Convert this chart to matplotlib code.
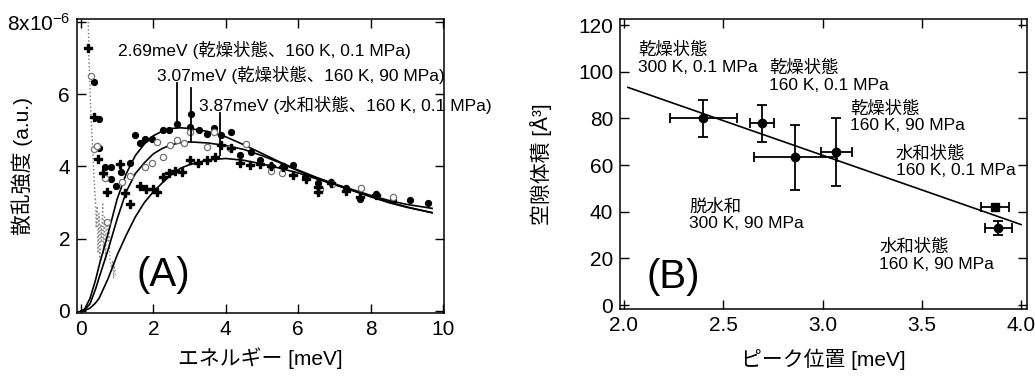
import matplotlib
matplotlib.use("Agg")
import matplotlib.pyplot as plt

plt.rcParams['font.family'] = ['Liberation Sans', 'Noto Sans CJK JP']
plt.rcParams['mathtext.fontset'] = 'custom'
plt.rcParams['mathtext.rm'] = 'Liberation Sans'
plt.rcParams['mathtext.it'] = 'Liberation Sans'

# ---------------- Panel A data ----------------
dry01_x = [0.37, 0.50, 0.50, 0.67, 0.83, 0.83, 0.97, 1.10, 1.35, 1.49, 1.63, 1.78, 1.95, 2.27, 2.43,
           2.66, 3.01, 3.04, 3.26, 3.47, 3.68, 3.88, 4.14, 4.39, 4.71, 4.94, 5.26, 5.58, 5.86, 6.18,
           6.55, 6.92, 7.33, 7.70, 8.16, 8.62, 9.08, 9.59]
dry01_y = [6.35, 5.31, 4.52, 3.99, 3.99, 3.65, 3.46, 3.85, 4.10, 4.87, 4.65, 4.76, 4.77, 5.02, 5.02,
           5.17, 5.08, 5.45, 5.00, 4.91, 5.07, 4.87, 4.96, 4.31, 4.41, 4.19, 4.02, 4.02, 4.04, 3.71,
           3.55, 3.58, 3.39, 3.10, 3.25, 3.07, 3.07, 3.00]

dry90_x = [0.28, 0.37, 0.43, 0.66, 0.72, 1.12, 1.35, 1.78, 1.95, 2.09, 2.27, 2.46, 2.66, 2.84, 3.01,
           3.47, 3.67, 4.11, 4.57, 5.26, 5.56, 6.59, 6.94, 7.73, 8.62]
dry90_y = [6.50, 4.47, 4.57, 3.67, 2.45, 3.58, 3.74, 3.99, 4.10, 4.68, 4.27, 4.59, 4.73, 4.64, 4.94,
           4.54, 4.94, 4.52, 4.63, 3.88, 3.82, 3.38, 3.51, 3.41, 3.16]

hyd01_x = [0.20, 0.37, 0.48, 0.62, 0.71, 1.08, 1.21, 1.35, 1.63, 1.81, 1.98, 2.10, 2.27, 2.44, 2.60,
           2.78, 3.01, 3.24, 3.47, 3.70, 3.88, 4.14, 4.39, 4.67, 4.94, 5.26, 5.58, 5.87, 6.22, 6.56,
           6.56, 6.92, 7.33, 7.70, 8.16]
hyd01_y = [7.28, 5.37, 4.22, 3.81, 3.28, 4.08, 3.26, 2.96, 3.46, 3.37, 3.38, 3.30, 3.70, 3.83, 3.87,
           3.85, 4.18, 4.10, 4.18, 4.27, 4.58, 4.50, 4.10, 4.04, 4.07, 4.00, 3.98, 3.75, 3.64, 3.44,
           3.30, 3.55, 3.33, 3.16, 3.20]

# fitted curves
fit_x = [0.0, 0.1, 0.25, 0.4, 0.5, 0.75, 1.0, 1.25, 1.5, 1.75, 2.0, 2.25, 2.5, 2.75, 3.0, 3.5,
         4.0, 4.5, 5.0, 5.5, 6.0, 6.5, 7.0, 7.5, 8.0, 8.5, 9.0, 9.7]
fit_dry01 = [0.0, 0.05, 0.35, 0.85, 1.25, 2.15, 3.1, 3.8, 4.3, 4.62, 4.85, 4.98, 5.05, 5.07, 5.05, 4.97,
             4.82, 4.60, 4.36, 4.12, 3.90, 3.70, 3.52, 3.36, 3.20, 3.06, 2.95, 2.84]
fit_dry90 = [0.0, 0.03, 0.20, 0.60, 0.92, 1.70, 2.55, 3.30, 3.80, 4.10, 4.35, 4.50, 4.60, 4.66, 4.68, 4.65,
             4.58, 4.47, 4.30, 4.10, 3.88, 3.68, 3.50, 3.33, 3.16, 3.00, 2.87, 2.72]
fit_hyd01 = [0.0, 0.01, 0.08, 0.22, 0.35, 0.90, 1.55, 2.10, 2.60, 3.00, 3.30, 3.55, 3.78, 3.95, 4.05, 4.18,
             4.22, 4.17, 4.07, 3.95, 3.82, 3.66, 3.50, 3.34, 3.18, 3.02, 2.88, 2.72]

# low-energy (elastic wing) data, grey dotted
wing1_x = [0.20, 0.21, 0.22, 0.24, 0.26, 0.28, 0.30, 0.33, 0.35, 0.38, 0.40]
wing1_y = [8.0, 7.6, 7.0, 6.4, 5.8, 5.3, 4.9, 4.4, 3.9, 3.3, 3.0]
wing2_x = [0.40, 0.42, 0.45, 0.47, 0.50, 0.52, 0.55, 0.57, 0.60, 0.62, 0.65, 0.68, 0.70, 0.72,
           0.75, 0.78, 0.80, 0.85, 0.88, 0.90, 0.92, 0.95]
wing2_y = [3.1, 2.3, 2.9, 1.6, 2.7, 1.4, 2.4, 1.9, 3.0, 1.6, 2.6, 1.4, 2.3, 2.5, 1.9, 2.2, 1.4,
           1.2, 1.4, 0.9, 1.3, 1.0]

peak_pos = [2.66, 3.05, 3.85]
peak_top = [6.31, 6.16, 5.47]
peak_bot = [5.17, 4.68, 4.31]
peak_labels = ["2.69meV (乾燥状態、160 K, 0.1 MPa)",
               "3.07meV (乾燥状態、160 K, 90 MPa)",
               "3.87meV (水和状態、160 K, 0.1 MPa)"]
peak_label_x = [1.03, 2.09, 3.26]
peak_label_y = [7.23, 6.53, 5.70]

# ---------------- Panel B data ----------------
b_x = [2.40, 2.696, 2.864, 3.07, 3.886]
b_y = [80.0, 77.9, 63.3, 65.7, 32.9]
b_xerr = [0.17, 0.06, 0.21, 0.08, 0.067]
b_yerr = [8.0, 8.0, 14.0, 14.5, 3.0]
sq_x = [3.87]
sq_y = [42.1]
sq_xerr = [0.07]
line_x = [2.02, 4.0]
line_y = [93.3, 34.5]
b_labels = ["乾燥状態\n300 K, 0.1 MPa", "乾燥状態\n160 K, 0.1 MPa", "乾燥状態\n160 K, 90 MPa",
            "水和状態\n160 K, 0.1 MPa", "脱水和\n300 K, 90 MPa", "水和状態\n160 K, 90 MPa"]
b_label_x = [2.07, 2.73, 3.14, 3.37, 2.33, 3.285]
b_label_y = [105.7, 98.0, 80.7, 61.4, 38.6, 21.4]

fig = plt.figure(figsize=(10.35, 3.78), dpi=100)

def style(ax):
    ax.tick_params(direction='in', length=6.5, width=1.0, top=True, right=True,
                   labelsize=15, pad=5)
    for s in ax.spines.values():
        s.set_linewidth(1.1)

# ---- Panel A ----
axA = fig.add_axes([0.0744, 0.172, 0.3546, 0.7777])
axA.plot(wing1_x, wing1_y, ls=':', color='0.45', lw=1.0)
axA.plot(wing2_x, wing2_y, ls=':', color='0.55', lw=1.0)
axA.plot(fit_x, fit_dry01, color='black', lw=1.2)
axA.plot(fit_x, fit_dry90, color='black', lw=1.2)
axA.plot(fit_x, fit_hyd01, color='black', lw=1.2)
axA.plot(dry01_x, dry01_y, 'o', color='black', ms=4.2, ls='none')
axA.plot(dry90_x, dry90_y, 'o', mfc='white', mec='0.45', mew=0.9, ms=4.5, ls='none')
axA.plot(hyd01_x, hyd01_y, 'P', color='black', ms=5.5, ls='none')
for px, pt, pb in zip(peak_pos, peak_top, peak_bot):
    axA.plot([px, px], [pb, pt], color='black', lw=1.3)
for lx, ly, lt in zip(peak_label_x, peak_label_y, peak_labels):
    axA.text(lx, ly, lt, fontsize=12.5, va='center', ha='left', clip_on=False)
axA.text(2.27, 1.0, "(A)", fontsize=29, ha='center', va='center')
axA.set_xlim(-0.11, 10.03)
axA.set_ylim(-0.055, 8.08)
axA.set_xticks([0, 2, 4, 6, 8, 10])
axA.set_yticks([0, 2, 4, 6, 8])
axA.set_yticklabels(['0', '2', '4', '6', '8x10$^{-6}$'])
style(axA)
axA.set_xlabel("エネルギー [meV]", fontsize=15)
axA.set_ylabel("散乱強度 (a.u.)", fontsize=15)
axA.yaxis.set_label_coords(-0.12, 0.5)
axA.xaxis.set_label_coords(0.5, -0.115)

# ---- Panel B ----
axB = fig.add_axes([0.599, 0.1825, 0.3933, 0.7672])
axB.plot(line_x, line_y, color='black', lw=1.2)
axB.errorbar(b_x, b_y, xerr=b_xerr, yerr=b_yerr, fmt='o', color='black', ms=6,
             elinewidth=1.3, capsize=3.5, capthick=1.3)
axB.errorbar(sq_x, sq_y, xerr=sq_xerr, fmt='s', color='black', ms=5.5,
             elinewidth=1.3, capsize=3.5, capthick=1.3)
for lx, ly, lt in zip(b_label_x, b_label_y, b_labels):
    axB.text(lx, ly, lt, fontsize=12.5, ha='left', va='center', linespacing=1.15)
axB.text(2.25, 12.0, "(B)", fontsize=29, ha='center', va='center')
axB.set_xlim(1.98, 4.03)
axB.set_ylim(-1.7, 122.6)
axB.set_xticks([2.0, 2.5, 3.0, 3.5, 4.0])
axB.set_xticklabels(['2.0', '2.5', '3.0', '3.5', '4.0'])
axB.set_yticks([0, 20, 40, 60, 80, 100, 120])
style(axB)
axB.set_xlabel("ピーク位置 [meV]", fontsize=15)
axB.set_ylabel("空隙体積 [Å³]", fontsize=15)
axB.yaxis.set_label_coords(-0.167, 0.5)
axB.xaxis.set_label_coords(0.5, -0.135)

fig.savefig("out.png", dpi=100)
